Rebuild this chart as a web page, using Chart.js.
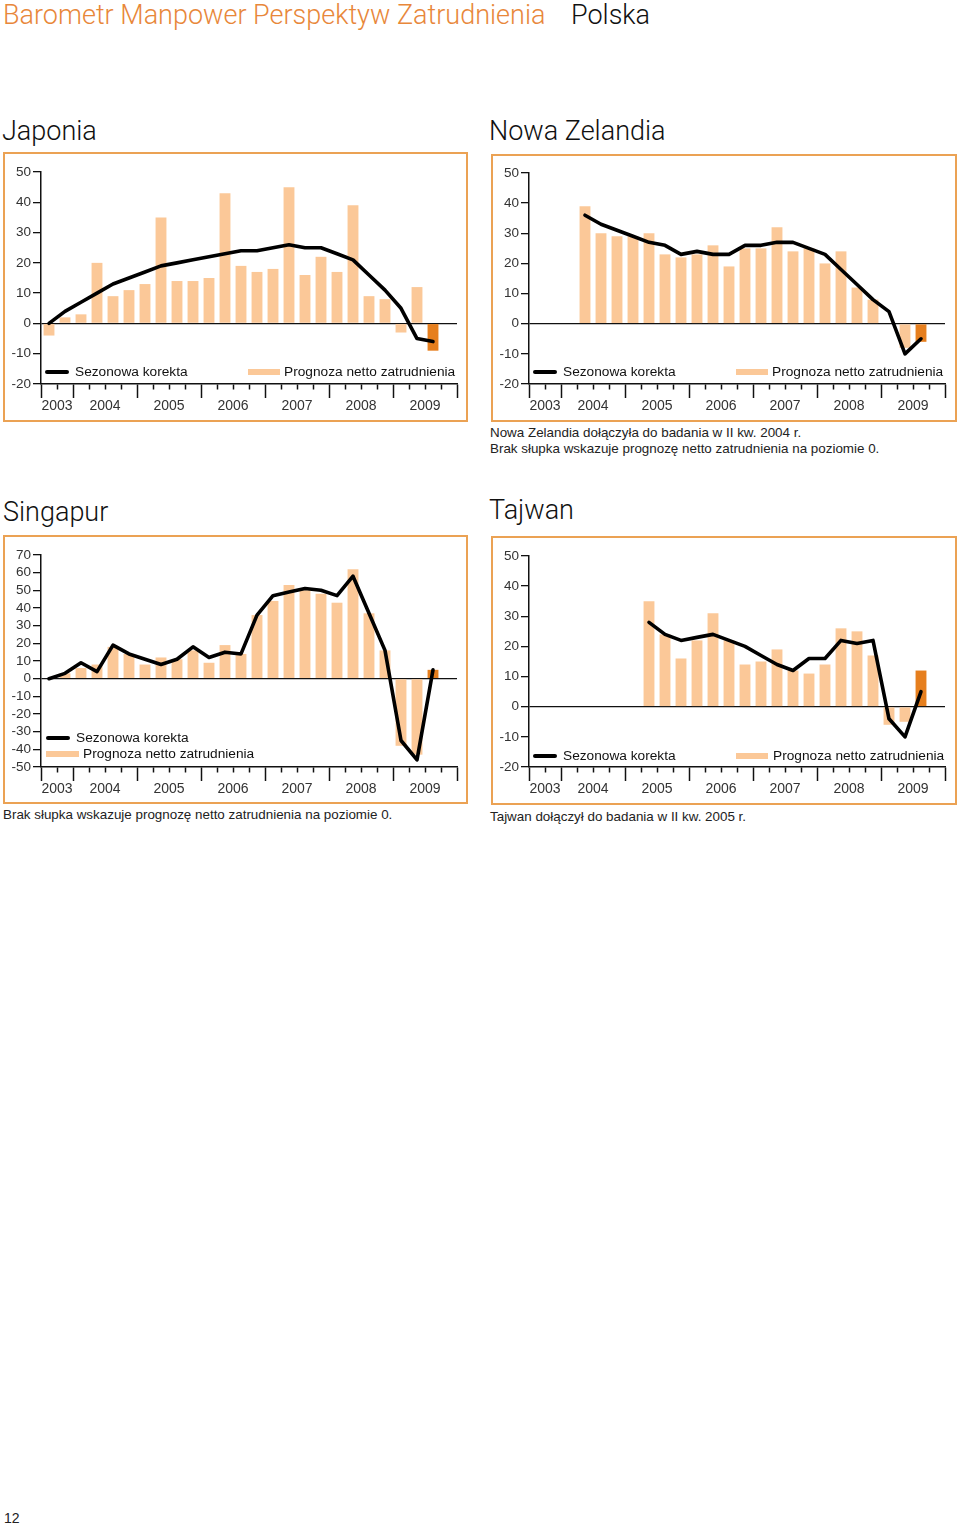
<!DOCTYPE html>
<html lang="pl">
<head>
<meta charset="utf-8">
<title>Barometr Manpower Perspektyw Zatrudnienia – Polska</title>
<script src="https://cdn.jsdelivr.net/npm/chart.js@4.4.1/dist/chart.umd.min.js"></script>
<style>
  body { margin: 0; background: #fff; font-family: "Liberation Sans", Arial, sans-serif; color: #222; }
  #strona { position: relative; width: 960px; height: 1528px; overflow: hidden; }
  .abs { position: absolute; white-space: nowrap; }
  .naglowek { font-family: Roboto, "Liberation Sans", sans-serif; font-weight: 300; font-size: 27px; line-height: 30px; }
  .tytul { font-family: Roboto, "Liberation Sans", sans-serif; font-weight: 300; font-size: 27px; line-height: 27px; color: #111; }
  .ramka { position: absolute; border: 2px solid #eba254; box-sizing: border-box; }
  .leg { font-size: 13.7px; line-height: 14px; color: #111; }
  .kreska { position: absolute; height: 4px; background: #000; border-radius: 2px; }
  .plama { position: absolute; height: 6px; background: #fbc898; }
  .uwaga { font-size: 13.4px; line-height: 14px; color: #222; }
  canvas { position: absolute; }
</style>
</head>
<body>
<div id="strona">
  <div class="abs naglowek" style="left:3px; top:0px; color:#e8873a;">Barometr Manpower Perspektyw Zatrudnienia</div>
  <div class="abs naglowek" style="left:571px; top:0px; color:#111;">Polska</div>

  <div class="abs tytul" style="left:2px; top:118px;">Japonia</div>
  <div class="abs tytul" style="left:489px; top:118px;">Nowa Zelandia</div>
  <div class="abs tytul" style="left:3px; top:499px;">Singapur</div>
  <div class="abs tytul" style="left:489px; top:497px;">Tajwan</div>

  <div class="ramka" style="left:3px; top:152px; width:465px; height:270px;"></div>
  <div class="ramka" style="left:491px; top:154px; width:466px; height:268px;"></div>
  <div class="ramka" style="left:3px; top:535px; width:465px; height:269px;"></div>
  <div class="ramka" style="left:491px; top:536px; width:466px; height:269px;"></div>

  <canvas id="chart-japonia"></canvas>
  <canvas id="chart-nz"></canvas>
  <canvas id="chart-singapur"></canvas>
  <canvas id="chart-tajwan"></canvas>

  <!-- legendy -->
  <div class="kreska" style="left:45px; top:370px; width:24px;"></div>
  <div class="abs leg" style="left:75px; top:365px;">Sezonowa korekta</div>
  <div class="plama" style="left:248px; top:369px; width:32px;"></div>
  <div class="abs leg" style="left:284px; top:365px;">Prognoza netto zatrudnienia</div>

  <div class="kreska" style="left:533px; top:370px; width:24px;"></div>
  <div class="abs leg" style="left:563px; top:365px;">Sezonowa korekta</div>
  <div class="plama" style="left:736px; top:369px; width:32px;"></div>
  <div class="abs leg" style="left:772px; top:365px;">Prognoza netto zatrudnienia</div>

  <div class="kreska" style="left:46px; top:736px; width:24px;"></div>
  <div class="abs leg" style="left:76px; top:731px;">Sezonowa korekta</div>
  <div class="plama" style="left:46px; top:751px; width:33px;"></div>
  <div class="abs leg" style="left:83px; top:747px;">Prognoza netto zatrudnienia</div>

  <div class="kreska" style="left:533px; top:754px; width:24px;"></div>
  <div class="abs leg" style="left:563px; top:749px;">Sezonowa korekta</div>
  <div class="plama" style="left:736px; top:753px; width:32px;"></div>
  <div class="abs leg" style="left:773px; top:749px;">Prognoza netto zatrudnienia</div>

  <!-- uwagi -->
  <div class="abs uwaga" style="left:490px; top:426px;">Nowa Zelandia dołączyła do badania w II kw. 2004 r.</div>
  <div class="abs uwaga" style="left:490px; top:442px;">Brak słupka wskazuje prognozę netto zatrudnienia na poziomie 0.</div>
  <div class="abs uwaga" style="left:3px; top:808px;">Brak słupka wskazuje prognozę netto zatrudnienia na poziomie 0.</div>
  <div class="abs uwaga" style="left:490px; top:810px;">Tajwan dołączył do badania w II kw. 2005 r.</div>

  <div class="abs" style="left:4px; top:1511px; font-size:14px; line-height:14px; color:#222;">12</div>
</div>

<script>
// kwartały od III kw. 2003 do IV kw. 2009
const kwartaly = [
  'III 2003', 'IV 2003',
  'I 2004', 'II 2004', 'III 2004', 'IV 2004',
  'I 2005', 'II 2005', 'III 2005', 'IV 2005',
  'I 2006', 'II 2006', 'III 2006', 'IV 2006',
  'I 2007', 'II 2007', 'III 2007', 'IV 2007',
  'I 2008', 'II 2008', 'III 2008', 'IV 2008',
  'I 2009', 'II 2009', 'III 2009', 'IV 2009'
];
const lata = ['2003', '2004', '2005', '2006', '2007', '2008', '2009'];

// Japonia
const japoniaPrognoza = [-4, 2, 3, 20, 9, 11, 13, 35, 14, 14, 15, 43, 19, 17, 18, 45, 16, 22, 17, 39, 9, 8, -3, 12, -9, null];
const japoniaKorekta = [0, 4, 7, 10, 13, 15, 17, 19, 20, 21, 22, 23, 24, 24, 25, 26, 25, 25, 23, 21, 16, 11, 5, -5, -6, null];

// Nowa Zelandia
const nzPrognoza = [null, null, null, 39, 30, 29, 29, 30, 23, 22, 23, 26, 19, 25, 25, 32, 24, 25, 20, 24, 12, 8, 0, -8, -6, null];
const nzKorekta = [null, null, null, 36, 33, 31, 29, 27, 26, 23, 24, 23, 23, 26, 26, 27, 27, 25, 23, 18, 13, 8, 4, -10, -5, null];

// Singapur
const singapurPrognoza = [0, 3, 6, 8, 18, 14, 8, 12, 11, 16, 9, 19, 14, 36, 44, 53, 50, 48, 43, 62, 37, 16, -38, -43, 5, null];
const singapurKorekta = [0, 3, 9, 4, 19, 14, 11, 8, 11, 18, 12, 15, 14, 36, 47, 49, 51, 50, 47, 58, 37, 16, -35, -46, 5, null];

// Tajwan
const tajwanPrognoza = [null, null, null, null, null, null, null, 35, 24, 16, 22, 31, 22, 14, 15, 19, 12, 11, 14, 26, 25, 17, -6, -5, 12, null];
const tajwanKorekta = [null, null, null, null, null, null, null, 28, 24, 22, 23, 24, 22, 20, 17, 14, 12, 16, 16, 22, 21, 22, -4, -10, 5, null];

const ostatniKwartal = 'III 2009'; // bieżąca prognoza – ciemniejszy słupek

const KOLOR_SLUPKA = '#fbc898';
const KOLOR_BIEZACY = '#e67f1e';

// granice lat i środki lat wyznaczone z listy kwartałów
const rokKwartalu = kwartaly.map(k => k.split(' ')[1]);
const granice = [0];
rokKwartalu.forEach((r, i) => { if (i > 0 && r !== rokKwartalu[i - 1]) granice.push(i); });
granice.push(kwartaly.length);
const srodkiLat = lata.map(r => (rokKwartalu.indexOf(r) + rokKwartalu.lastIndexOf(r) + 1) / 2);

const wykresy = {};

function rysujPanel(id, obszar, prognoza, korekta, yMin, yMax) {
  const canvas = document.getElementById(id);
  const lewy = 40, gora = 12, prawy = 8, dol = 30;
  const w = Math.round(obszar.right - obszar.left) + lewy + prawy;
  const h = Math.round(obszar.bottom - obszar.top) + gora + dol;
  canvas.width = w;
  canvas.height = h;
  canvas.style.width = w + 'px';
  canvas.style.height = h + 'px';
  canvas.style.left = (obszar.left - lewy) + 'px';
  canvas.style.top = (obszar.top - gora) + 'px';

  const idxBiezacy = kwartaly.indexOf(ostatniKwartal);

  wykresy[id] = new Chart(canvas.getContext('2d'), {
    type: 'bar',
    data: {
      labels: kwartaly,
      datasets: [
        {
          type: 'line',
          label: 'Sezonowa korekta',
          data: korekta,
          borderColor: '#000',
          borderWidth: 3.6,
          pointRadius: 0,
          tension: 0,
          borderJoinStyle: 'round',
          borderCapStyle: 'round',
          spanGaps: false,
          order: 0
        },
        {
          type: 'bar',
          label: 'Prognoza netto zatrudnienia',
          data: prognoza,
          backgroundColor: ctx => ctx.dataIndex === idxBiezacy ? KOLOR_BIEZACY : KOLOR_SLUPKA,
          barPercentage: 0.68,
          categoryPercentage: 1,
          order: 1
        }
      ]
    },
    options: {
      responsive: false,
      animation: false,
      layout: { padding: { top: gora, right: prawy, left: 0, bottom: 0 } },
      plugins: { legend: { display: false }, tooltip: { enabled: false } },
      scales: {
        x: { display: false },
        os: {
          type: 'linear',
          position: 'bottom',
          min: 0,
          max: kwartaly.length,
          offset: false,
          // podziałka co kwartał: granice kwartałów 0..26
          afterBuildTicks: s => {
            s.ticks = [];
            for (let i = 0; i <= kwartaly.length; i++) s.ticks.push({ value: i });
          },
          afterFit: s => { s.height = dol; },
          border: { display: true, color: '#111', width: 1.5 },
          grid: {
            offset: false,
            drawOnChartArea: false,
            tickLength: 14,
            tickColor: '#111',
            tickWidth: 1.5,
            tickBorderDash: c => (c.tick && !granice.includes(c.tick.value)) ? [5, 40] : []
          },
          ticks: {
            autoSkip: false,
            maxRotation: 0,
            padding: 0,
            color: '#333',
            font: { family: '"Liberation Sans", Arial, sans-serif', size: 14 },
            callback: v => {
              const i = srodkiLat.indexOf(v);
              return i >= 0 ? lata[i] : '';
            }
          }
        },
        y: {
          min: yMin,
          max: yMax,
          z: 1,
          afterFit: s => { s.width = lewy; },
          border: { display: true, color: '#111', width: 1.5 },
          grid: {
            color: c => (c.tick && c.tick.value === 0) ? '#111' : 'rgba(0,0,0,0)',
            lineWidth: 1.3,
            tickColor: '#111',
            tickLength: 8,
            tickWidth: 1.3
          },
          ticks: {
            stepSize: 10,
            maxTicksLimit: 30,
            autoSkip: false,
            padding: 2,
            color: '#333',
            font: { family: '"Liberation Sans", Arial, sans-serif', size: 13.5 }
          }
        }
      }
    }
  });
}

rysujPanel('chart-japonia', { left: 41, right: 456.7, top: 172, bottom: 384.3 }, japoniaPrognoza, japoniaKorekta, -20, 50);
rysujPanel('chart-nz', { left: 529, right: 944.7, top: 173, bottom: 384.3 }, nzPrognoza, nzKorekta, -20, 50);
rysujPanel('chart-singapur', { left: 41, right: 456.7, top: 555, bottom: 767.3 }, singapurPrognoza, singapurKorekta, -50, 70);
rysujPanel('chart-tajwan', { left: 529, right: 944.7, top: 556.3, bottom: 767.3 }, tajwanPrognoza, tajwanKorekta, -20, 50);
</script>
</body>
</html>
